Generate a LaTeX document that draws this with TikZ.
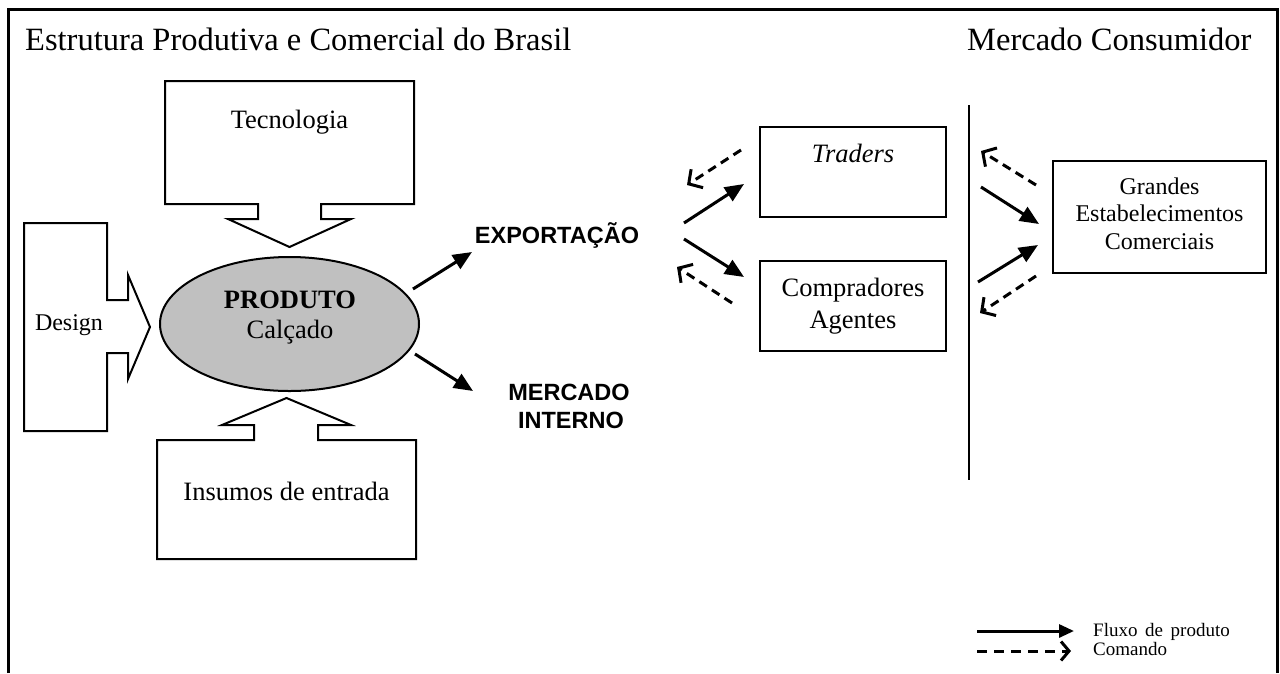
\documentclass[tikz,border=0pt]{standalone}
\usepackage{fontspec}
\setmainfont{Liberation Serif}
\setsansfont{Liberation Sans}
\usetikzlibrary{arrows.meta,shapes.geometric}
\definecolor{prodgray}{RGB}{192,192,192}
\newcommand\fsz[1]{\fontsize{#1}{#1}\selectfont}
\begin{document}
\begin{tikzpicture}[x=1pt,y=-1pt,
  frame/.style={line width=3pt},
  box/.style={draw,line width=2pt,inner sep=0pt},
  callout/.style={draw,line width=2pt,line join=miter},
  txt/.style={inner sep=0pt,anchor=base},
  flow/.style={line width=3pt,-{Triangle[length=19pt,width=16pt]}},
  cmd/.style={line width=3pt,dash pattern=on 9pt off 6pt,-{Straight Barb[length=10pt,width=22pt,line width=3pt]}},
]
\useasboundingbox (0,0) rectangle (1280,673);
% outer frame (open at the bottom)
\draw[frame] (8,673) -- (8,9) -- (1277,9) -- (1277,673);

% titles
\node[txt,anchor=base west,font=\fsz{32.5}] (title1) at (25,50) {Estrutura Produtiva e Comercial do Brasil};
\node[txt,anchor=base west,font=\fsz{32.5}] (title2) at (967,50) {Mercado Consumidor};

% callout arrows
\draw[callout] (165,81) -- (414,81) -- (414,204) -- (321,204) -- (321,219) -- (351,219) -- (289.5,247)
  -- (228,219) -- (258,219) -- (258,204) -- (165,204) -- cycle;
\node[txt,font=\fsz{26.5}] (tec) at (289.5,128) {Tecnologia};

\draw[callout] (24,223) -- (107,223) -- (107,300) -- (128,300) -- (128,275) -- (150,327) -- (128,379)
  -- (128,353) -- (107,353) -- (107,431) -- (24,431) -- cycle;
\node[txt,font=\fsz{24}] (des) at (69,330) {Design};

\draw[callout] (157,559) -- (416,559) -- (416,440) -- (318,440) -- (318,425) -- (351,425) -- (286.5,398)
  -- (222,425) -- (254,425) -- (254,440) -- (157,440) -- cycle;
\node[txt,font=\fsz{26.5}] (ins) at (286.5,500) {Insumos de entrada};

% product ellipse
\node[ellipse,draw,line width=2pt,fill=prodgray,minimum width=259pt,minimum height=134pt,inner sep=0pt] (prod) at (289.5,324) {};
\node[txt,font=\fsz{26.5}\bfseries] (prod1) at (290,308) {PRODUTO};
\node[txt,font=\fsz{26.5}] (prod2) at (290,338) {Calçado};

% destinations
\node[txt,font=\fsz{23.5}\sffamily\bfseries] (exp) at (557,243) {EXPORTAÇÃO};
\node[txt,font=\fsz{23.5}\sffamily\bfseries] (mi1) at (569,400) {MERCADO};
\node[txt,font=\fsz{23.5}\sffamily\bfseries] (mi2) at (571,428) {INTERNO};

\coordinate (e1) at (413,289); \coordinate (e2) at (472,252);
\coordinate (m1) at (415,354); \coordinate (m2) at (473,391);
\draw[flow] (e1) -- (e2);
\draw[flow] (m1) -- (m2);

% intermediaries
\node[box,minimum width=186pt,minimum height=90pt] (trad) at (853,172) {};
\node[txt,font=\fsz{26.5}\itshape] (tradt) at (853,162) {Traders};
\node[box,minimum width=186pt,minimum height=90pt] (comp) at (853,306) {};
\node[txt,font=\fsz{26.5}] (comp1) at (853,296) {Compradores};
\node[txt,font=\fsz{26.5}] (comp2) at (853,328) {Agentes};

\coordinate (a1) at (684,223); \coordinate (a2) at (744,184);
\coordinate (b1) at (684,239); \coordinate (b2) at (744,277);
\coordinate (c1) at (741,150); \coordinate (c2) at (687,185);
\coordinate (d1) at (732,303); \coordinate (d2) at (677,267);
\draw[flow] (a1) -- (a2);
\draw[flow] (b1) -- (b2);
\draw[cmd] (c1) -- (c2);
\draw[cmd] (d1) -- (d2);

% divider
\coordinate (vtop) at (969,105); \coordinate (vbot) at (969,480);
\draw[line width=2pt] (vtop) -- (vbot);

% big retailers
\node[box,minimum width=213pt,minimum height=112pt] (gran) at (1159.5,217) {};
\node[txt,font=\fsz{24}] (gran1) at (1159.5,194) {Grandes};
\node[txt,font=\fsz{24}] (gran2) at (1159.5,221) {Estabelecimentos};
\node[txt,font=\fsz{24}] (gran3) at (1159.5,249) {Comerciais};

\coordinate (f1) at (1036,185); \coordinate (f2) at (981,151);
\coordinate (g1) at (981,187); \coordinate (g2) at (1039,224);
\coordinate (h1) at (978,282); \coordinate (h2) at (1038,245);
\coordinate (k1) at (1036,276); \coordinate (k2) at (980,313);
\draw[cmd] (f1) -- (f2);
\draw[flow] (g1) -- (g2);
\draw[flow] (h1) -- (h2);
\draw[cmd] (k1) -- (k2);

% legend
\coordinate (l1) at (977,631); \coordinate (l2) at (1074,631);
\coordinate (l3) at (977,651); \coordinate (l4) at (1071,651);
\draw[line width=3pt,-{Triangle[length=15pt,width=13pt]}] (l1) -- (l2);
\draw[line width=3pt,dash pattern=on 10pt off 7pt,-{Straight Barb[length=8pt,width=19pt,line width=3pt]}] (l3) -- (l4);
\node[txt,anchor=base west,font=\fsz{19}] (leg1) at (1093,636) {Fluxo\hspace{0.4em}de\hspace{0.4em}produto};
\node[txt,anchor=base west,font=\fsz{19}] (leg2) at (1093,655) {Comando};
\end{tikzpicture}
\end{document}
